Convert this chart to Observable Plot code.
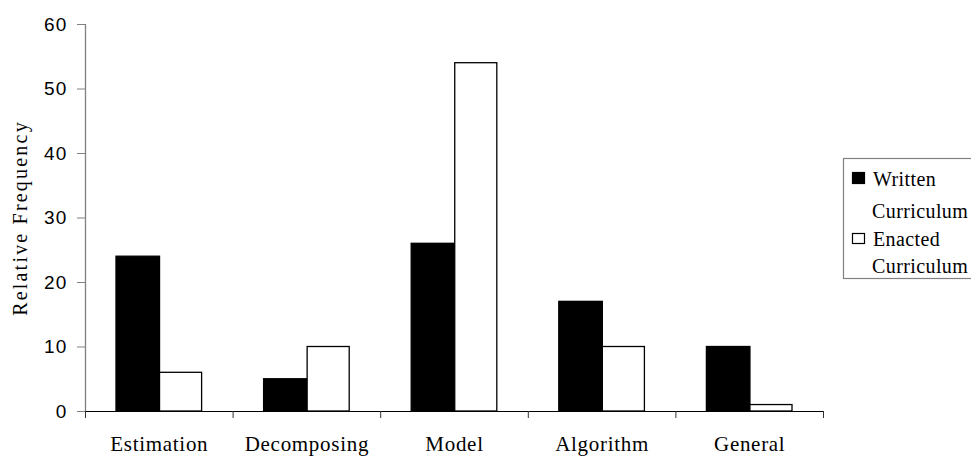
<!DOCTYPE html>
<html><head><meta charset="utf-8">
<script src="https://cdn.jsdelivr.net/npm/d3@7"></script>
<script src="https://cdn.jsdelivr.net/npm/@observablehq/plot@0.6"></script>
<style>
html,body{margin:0;padding:0;background:#fff;overflow:hidden;}
#wrap{position:relative;width:971px;height:458px;}
#legend{position:absolute;left:842px;top:157px;}
#legend text{letter-spacing:0.4px;}
</style></head><body><div id="wrap"></div>
<script>
const categories = ["Estimation","Decomposing","Model","Algorithm","General"];
const written = [24,5,26,17,10];
const enacted = [6,10,54,10,1];
const seriesNames = [["Written","Curriculum"],["Enacted","Curriculum"]];
const yTicks = [0,10,20,30,40,50,60];
const yLabel = "Relative Frequency";

const edges = [0.21, 0.505, 0.79];
const serif = "Liberation Serif, Times New Roman, serif";
const sans = "Liberation Sans, Arial, sans-serif";
const rowsW = categories.map((c,i)=>({i, v: written[i]}));
const rowsE = categories.map((c,i)=>({i, v: enacted[i]}));

const chart = Plot.plot({
  width:971, height:458,
  marginLeft:85, marginRight:148, marginTop:24, marginBottom:47,
  x:{domain:[0,categories.length], axis:null},
  y:{domain:[0,60], axis:null},
  style:{background:"#fff", overflow:"visible"},
  marks:[
    Plot.rectY(rowsW,{x1:d=>d.i+edges[0], x2:d=>d.i+edges[1], y1:0, y2:"v", fill:"#000", stroke:"#000", strokeWidth:1.3}),
    Plot.rectY(rowsE,{x1:d=>d.i+edges[1], x2:d=>d.i+edges[2], y1:0, y2:"v", fill:"#fff", stroke:"#000", strokeWidth:1.3}),
    Plot.ruleX([0],{stroke:"#808080", strokeWidth:1.3}),
    Plot.ruleY([0],{stroke:"#000", strokeWidth:1.2}),
    Plot.axisX({ticks:d3.range(categories.length+1), tickFormat:()=>"", tickSize:7, stroke:"#333", label:null}),
    Plot.axisY({ticks:yTicks, tickSize:8, tickPadding:10, fontSize:19, fontFamily:sans, stroke:"#808080", label:null}),
    Plot.text([yLabel],{frameAnchor:"left", textAnchor:"middle", dx:-65, rotate:-90, fontSize:20, fontFamily:serif, fill:"#000"}),
    Plot.text(categories,{x:(d,i)=>i+0.5, y:0, dy:33, fontSize:21, fontFamily:serif, fill:"#000"})
  ]
});
document.getElementById("wrap").appendChild(chart);

// letter spacing to match the reference's wide text
d3.select(chart).selectAll("text").each(function(){
  const t = this.textContent;
  if (categories.includes(t)) this.style.letterSpacing = "0.7px";
  else if (t === yLabel) this.style.letterSpacing = "2.2px";
  else if (yTicks.map(String).includes(t)) this.style.letterSpacing = "1.2px";
});

// legend
const lg = d3.select("#wrap").append("svg").attr("id","legend").attr("width",129).attr("height",124);
lg.append("rect").attr("x",1.5).attr("y",1.5).attr("width",200).attr("height",120)
  .attr("fill","#fff").attr("stroke","#808080").attr("stroke-width",1.2);
const fills = ["#000","#fff"];
const swY = [15.5, 76.5];
const lineY = [[29,61],[89,116]];
seriesNames.forEach((lines,k)=>{
  lg.append("rect").attr("x",10.5).attr("y",swY[k]).attr("width",12).attr("height",k===0?11:10)
    .attr("fill",fills[k]).attr("stroke","#000").attr("stroke-width",1.2);
  lines.forEach((t,j)=>{
    lg.append("text").attr("x", j===0?31:30).attr("y",lineY[k][j])
      .attr("font-family",serif).attr("font-size",20).attr("fill","#000").text(t);
  });
});
</script></body></html>
